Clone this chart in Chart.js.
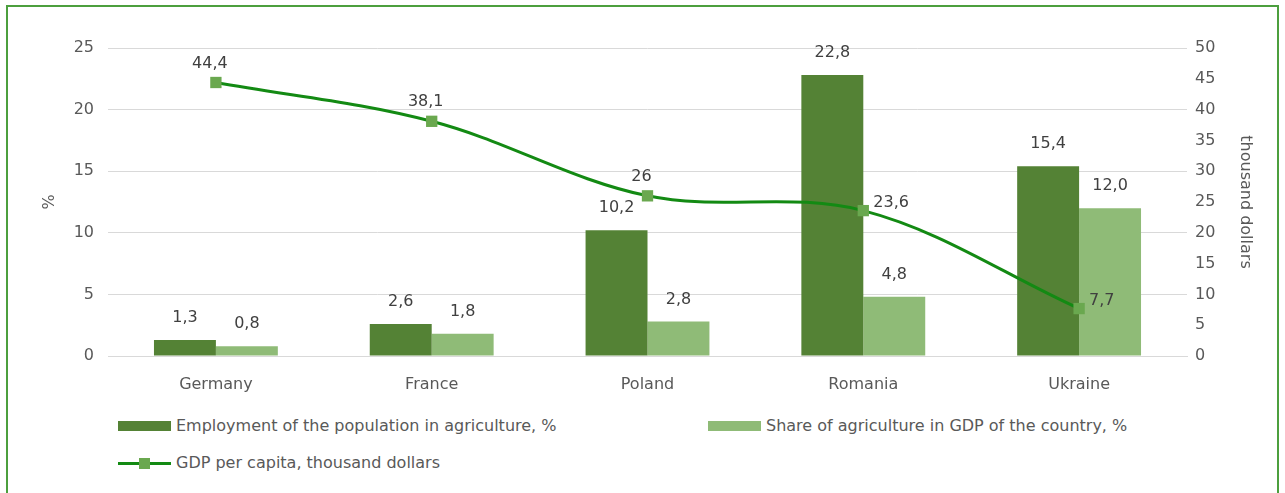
<!DOCTYPE html>
<html>
<head>
<meta charset="utf-8">
<script src="https://cdn.jsdelivr.net/npm/chart.js@4.4.1/dist/chart.umd.min.js"></script>
<style>
  html, body { margin: 0; padding: 0; background: #fff; }
  #wrap { position: relative; width: 1285px; height: 493px; overflow: hidden; }
  #frame { position: absolute; left: 6px; top: 5px; width: 1273px; height: 488px; border: 2px solid #4c9f3e; border-bottom: none; box-sizing: border-box; }
  #cv { position: absolute; left: 0; top: 0; }
  .leg { position: absolute; font-family: "DejaVu Sans", sans-serif; font-size: 16px; color: #595959; white-space: nowrap; line-height: 20px; }
  .box { position: absolute; width: 53px; height: 10px; }
  .lineicon { position: absolute; width: 53px; height: 3px; background: #138a13; }
  .lineicon span { position: absolute; left: 21px; top: -4px; width: 11px; height: 11px; background: #6aa84f; }
</style>
</head>
<body>
<div id="wrap">
  <div id="frame"></div>
  <canvas id="cv" width="1285" height="395"></canvas>
  <div class="box" style="left:118px; top:421px; background:#548235;"></div>
  <div class="leg" style="left:176px; top:416px;">Employment of the population in agriculture, %</div>
  <div class="box" style="left:708px; top:421px; background:#8fbb77;"></div>
  <div class="leg" style="left:766px; top:416px;">Share of agriculture in GDP of the country, %</div>
  <div class="lineicon" style="left:118px; top:462px;"><span></span></div>
  <div class="leg" style="left:176px; top:453px;">GDP per capita, thousand dollars</div>
</div>
<script>
// данные
const countries = ['Germany', 'France', 'Poland', 'Romania', 'Ukraine'];
const employment = [1.3, 2.6, 10.2, 22.8, 15.4];
const shareGdp = [0.8, 1.8, 2.8, 4.8, 12.0];
const gdpPerCapita = [44.4, 38.1, 26, 23.6, 7.7];
const employmentLabels = ['1,3', '2,6', '10,2', '22,8', '15,4'];
const shareLabels = ['0,8', '1,8', '2,8', '4,8', '12,0'];
const gdpLabels = ['44,4', '38,1', '26', '23,6', '7,7'];
const gdpLabelSide = ['top', 'top', 'top', 'right', 'right'];

const fontFamily = '"DejaVu Sans", sans-serif';

// plugin that writes the value labels
const valueLabels = {
    id: 'valueLabels',
    afterDatasetsDraw(chart) {
        const ctx = chart.ctx;
        ctx.save();
        ctx.font = '16px ' + fontFamily;
        ctx.fillStyle = '#404040';
        ctx.textBaseline = 'middle';
        [[0, employmentLabels], [1, shareLabels]].forEach(([i, texts]) => {
            chart.getDatasetMeta(i).data.forEach((bar, j) => {
                ctx.textAlign = 'center';
                ctx.fillText(texts[j], bar.x, bar.y - 22);
            });
        });
        chart.getDatasetMeta(2).data.forEach((pt, j) => {
            if (gdpLabelSide[j] === 'top') {
                ctx.textAlign = 'center';
                ctx.fillText(gdpLabels[j], pt.x - 6, pt.y - 19);
            } else {
                ctx.textAlign = 'left';
                ctx.fillText(gdpLabels[j], pt.x + 10, pt.y - 8);
            }
        });
        ctx.restore();
    }
};

new Chart(document.getElementById('cv'), {
    type: 'bar',
    data: {
        labels: countries,
        datasets: [
            {
                label: 'Employment of the population in agriculture, %',
                data: employment,
                backgroundColor: '#548235',
                yAxisID: 'y',
                order: 2,
                categoryPercentage: 0.574,
                barPercentage: 1
            },
            {
                label: 'Share of agriculture in GDP of the country, %',
                data: shareGdp,
                backgroundColor: '#8fbb77',
                yAxisID: 'y',
                order: 3,
                categoryPercentage: 0.574,
                barPercentage: 1
            },
            {
                type: 'line',
                label: 'GDP per capita, thousand dollars',
                data: gdpPerCapita,
                borderColor: '#138a13',
                borderWidth: 3,
                tension: 0.35,
                pointStyle: 'rect',
                pointRadius: 8,
                pointBorderWidth: 0,
                pointBackgroundColor: '#6aa84f',
                pointBorderColor: '#6aa84f',
                yAxisID: 'y1',
                order: 0
            }
        ]
    },
    options: {
        responsive: false,
        animation: false,
        layout: { padding: { left: 40, right: 30, top: 48, bottom: 0 } },
        plugins: {
            legend: { display: false },
            tooltip: { enabled: false }
        },
        scales: {
            x: {
                grid: { display: false },
                border: { color: '#d9d9d9' },
                ticks: { color: '#595959', font: { family: fontFamily, size: 16 }, padding: 11 },
                afterFit(s) { s.height = 39; }
            },
            y: {
                position: 'left',
                min: 0, max: 25,
                ticks: { stepSize: 5, color: '#595959', font: { family: fontFamily, size: 16 }, padding: 14 },
                grid: { color: '#d9d9d9', drawTicks: false },
                border: { display: false },
                title: { display: true, text: '%', color: '#595959', font: { family: fontFamily, size: 16 }, padding: 0 },
                afterFit(s) { s.width = 68; }
            },
            y1: {
                position: 'right',
                min: 0, max: 50,
                ticks: { stepSize: 5, color: '#595959', font: { family: fontFamily, size: 16 }, padding: 8 },
                grid: { display: false, drawTicks: false },
                border: { display: false },
                title: { display: true, text: 'thousand dollars', color: '#595959', font: { family: fontFamily, size: 16 }, padding: 0 },
                afterFit(s) { s.width = 68; }
            }
        }
    },
    plugins: [valueLabels]
});
</script>
</body>
</html>
